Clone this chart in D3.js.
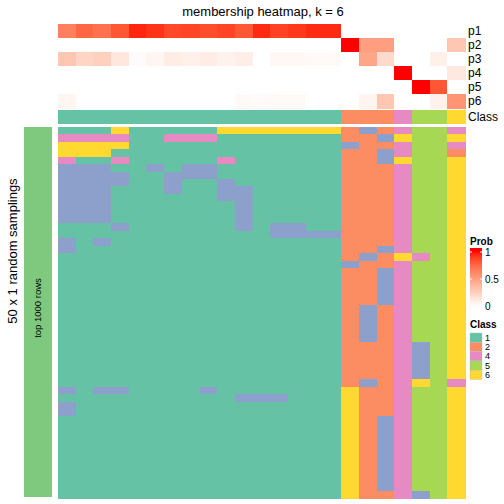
<!DOCTYPE html>
<html>
<head>
<meta charset="utf-8">
<script src="https://cdn.jsdelivr.net/npm/d3@7"></script>
<style>
  html, body { margin: 0; padding: 0; background: #fff; }
  svg { display: block; font-family: "Liberation Sans", Arial, Helvetica, sans-serif; }
</style>
</head>
<body>
<svg id="chart" width="504" height="504"></svg>
<script>
// ---------------- DATA ----------------
const title = "membership heatmap, k = 6";
const probNames = ["p1", "p2", "p3", "p4", "p5", "p6"];
const sampleClass = [1,1,1,1,1,1,1,1,1,1,1,1,1,1,1,1,2,2,2,4,5,5,6];
const p1 = [0.65,0.76,0.72,0.82,0.96,0.93,0.87,0.88,0.86,0.88,0.82,0.95,0.89,0.92,0.95,0.95,0,0,0,0,0,0,0];
const p2 = [0,0,0,0,0,0,0,0,0,0,0,0,0,0,0,0,1.0,0.5,0.5,0,0,0,0.3];
const p3 = [0.3,0.22,0.25,0.13,0.02,0.05,0.1,0.08,0.1,0.07,0.09,0,0.04,0.04,0.03,0.03,0,0.47,0.2,0,0,0.08,0];
const p4 = [0,0,0,0,0,0,0,0,0,0,0,0,0,0,0,0,0,0,0,1.0,0,0,0.12];
const p5 = [0,0,0,0,0,0,0,0,0,0,0,0,0,0,0,0,0,0,0,0,1.0,0.82,0];
const p6 = [0.05,0,0,0,0,0,0,0,0,0,0.03,0.02,0.03,0.03,0,0,0,0.06,0.3,0,0,0.07,0.55];
// class assigned in each random sampling (rows) for each sample (columns)
const samplingRows = [
  "11161111166666662324554",
  "44441144411111112236556",
  "66661111111111113224554",
  "66611111111111112234552",
  "41141111141111112236556",
  "33311313311111112224556",
  "33331133311111112224556",
  "33331131131111112224556",
  "33311131133111112224556",
  "33311111133111112224556",
  "33311111113111112224556",
  "33311111113111112224556",
  "33311111113111112224556",
  "11131111113133112224556",
  "11111111111133332224556",
  "31311111111111112224556",
  "31111111111111112234556",
  "11111111111111112326456",
  "11111111111111113224556",
  "11111111111111112234556",
  "11111111111111112234556",
  "11111111111111112234556",
  "11111111111111112234556",
  "11111111111111112234556",
  "11111111111111112324556",
  "11111111111111112324556",
  "11111111111111112324556",
  "11111111111111112324556",
  "11111111111111112324556",
  "11111111111111112224356",
  "11111111111111112224356",
  "11111111111111112224356",
  "11111111111111112224356",
  "11111111111111112224356",
  "11111111111111112324654",
  "31331111311111116224556",
  "11111111113331116224556",
  "31111111111111116224556",
  "31111111111111116224556",
  "11111111111111116234556",
  "11111111111111116234556",
  "11111111111111116234556",
  "11111111111111116234556",
  "11111111111111116234556",
  "11111111111111116234556",
  "11111111111111116234556",
  "11111111111111116234556",
  "11111111111111116234556",
  "11111111111111116234556",
  "11111111111111116224356"
];
const classLevels = [1, 2, 3, 4, 5, 6];
const classColors = ["#66C2A5", "#FC8D62", "#8DA0CB", "#E78AC3", "#A6D854", "#FFD92F"];
const legendClasses = [1, 2, 4, 5, 6];
const probTicks = [0, 0.5, 1];
const rowTitle = "50 x 1 random samplings";
const rowGroupLabel = "top 1000 rows";

// ---------------- DRAW ----------------
const svg = d3.select("#chart");
const probs = [p1, p2, p3, p4, p5, p6];
const nCol = sampleClass.length;
const matrix = samplingRows.map(s => s.split("").map(Number));

const x = d3.scaleBand().domain(d3.range(nCol)).range([58, 465]).padding(0);
const yTop = d3.scaleBand().domain(probNames).range([24, 108]).padding(0);
const yMain = d3.scaleBand().domain(d3.range(matrix.length)).range([127, 498]).padding(0);
const classColor = d3.scaleOrdinal().domain(classLevels).range(classColors);
const probColor = d3.scaleLinear().domain([0, 1]).range(["white", "red"]).interpolate(d3.interpolateLab);

// title
svg.append("text").attr("x", 263).attr("y", 16).attr("text-anchor", "middle")
  .attr("font-size", 13).text(title);

// probability annotation
const gTop = svg.append("g").attr("shape-rendering", "crispEdges");
probNames.forEach((nm, i) => {
  gTop.selectAll(null).data(probs[i]).join("rect")
    .attr("x", (d, j) => x(j)).attr("y", yTop(nm))
    .attr("width", x.bandwidth() + 0.5).attr("height", yTop.bandwidth() + 0.5)
    .attr("fill", d => probColor(d));
  svg.append("text").attr("x", 468).attr("y", yTop(nm) + yTop.bandwidth() / 2)
    .attr("dy", "0.36em").attr("font-size", 12).text(nm);
});

// class annotation
gTop.selectAll(null).data(sampleClass).join("rect")
  .attr("x", (d, j) => x(j)).attr("y", 110)
  .attr("width", x.bandwidth() + 0.5).attr("height", 14)
  .attr("fill", d => classColor(d));
svg.append("text").attr("x", 468).attr("y", 117).attr("dy", "0.36em")
  .attr("font-size", 12).text("Class");

// main heatmap
const gMain = svg.append("g").attr("shape-rendering", "crispEdges");
matrix.forEach((row, i) => {
  gMain.selectAll(null).data(row).join("rect")
    .attr("x", (d, j) => x(j)).attr("y", yMain(i))
    .attr("width", x.bandwidth() + 0.5).attr("height", yMain.bandwidth() + 0.5)
    .attr("fill", d => classColor(d));
});

// left row-group bar
svg.append("rect").attr("x", 24).attr("y", 127).attr("width", 28).attr("height", 370)
  .attr("fill", "#7FC97F");
svg.append("text").attr("transform", "translate(41,308) rotate(-90)")
  .attr("text-anchor", "middle").attr("font-size", 9.5).text(rowGroupLabel);
svg.append("text").attr("transform", "translate(16.5,251) rotate(-90)")
  .attr("text-anchor", "middle").attr("font-size", 13).text(rowTitle);

// Prob legend
const lx = 470, lw = 12;
svg.append("text").attr("x", lx).attr("y", 245).attr("font-size", 10)
  .attr("font-weight", "bold").text("Prob");
const barTop = 248, barBot = 310;
const yLeg = d3.scaleLinear().domain([0, 1]).range([306, 252]);
const defs = svg.append("defs");
const grad = defs.append("linearGradient").attr("id", "probGrad")
  .attr("x1", 0).attr("y1", 0).attr("x2", 0).attr("y2", 1);
d3.range(0, 1.0001, 0.05).forEach(t => {
  const yy = barTop + t * (barBot - barTop);
  const v = Math.max(0, Math.min(1, yLeg.invert(yy)));
  grad.append("stop").attr("offset", t).attr("stop-color", probColor(v));
});
svg.append("rect").attr("x", lx).attr("y", barTop).attr("width", lw)
  .attr("height", barBot - barTop).attr("fill", "url(#probGrad)");
probTicks.forEach(t => {
  const yy = yLeg(t);
  svg.append("line").attr("x1", lx).attr("x2", lx + 2).attr("y1", yy).attr("y2", yy)
    .attr("stroke", "white").attr("stroke-width", 1);
  svg.append("line").attr("x1", lx + lw - 2).attr("x2", lx + lw).attr("y1", yy).attr("y2", yy)
    .attr("stroke", "white").attr("stroke-width", 1);
  svg.append("text").attr("x", lx + lw + 3).attr("y", yy).attr("dy", "0.36em")
    .attr("font-size", 10).text(String(t));
});

// Class legend
svg.append("text").attr("x", lx).attr("y", 328).attr("font-size", 10)
  .attr("font-weight", "bold").text("Class");
const itemH = 9.3;
legendClasses.forEach((c, i) => {
  const yy = 333 + i * itemH;
  svg.append("rect").attr("x", lx).attr("y", yy).attr("width", lw).attr("height", itemH)
    .attr("fill", classColor(c)).attr("stroke", "#bbbbbb").attr("stroke-width", 0.4);
  svg.append("text").attr("x", lx + lw + 3).attr("y", yy + itemH / 2).attr("dy", "0.36em")
    .attr("font-size", 9).text(String(c));
});
</script>
</body>
</html>
